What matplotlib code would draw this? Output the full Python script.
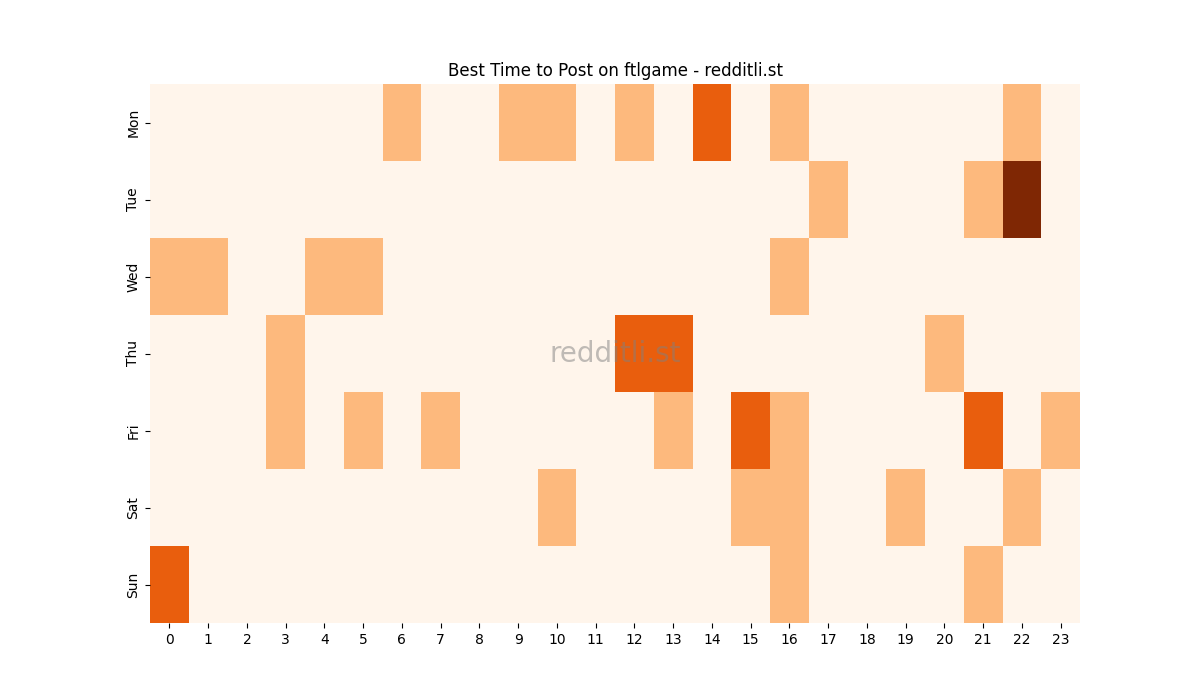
import numpy as np
import matplotlib
matplotlib.use("Agg")
import matplotlib.pyplot as plt
import seaborn as sns

days = ["Mon", "Tue", "Wed", "Thu", "Fri", "Sat", "Sun"]
hours = list(range(24))

# posts score per hour
mon = [0, 0, 0, 0, 0, 0, 1, 0, 0, 1, 1, 0, 1, 0, 2, 0, 1, 0, 0, 0, 0, 0, 1, 0]
tue = [0, 0, 0, 0, 0, 0, 0, 0, 0, 0, 0, 0, 0, 0, 0, 0, 0, 1, 0, 0, 0, 1, 3, 0]
wed = [1, 1, 0, 0, 1, 1, 0, 0, 0, 0, 0, 0, 0, 0, 0, 0, 1, 0, 0, 0, 0, 0, 0, 0]
thu = [0, 0, 0, 1, 0, 0, 0, 0, 0, 0, 0, 0, 2, 2, 0, 0, 0, 0, 0, 0, 1, 0, 0, 0]
fri = [0, 0, 0, 1, 0, 1, 0, 1, 0, 0, 0, 0, 0, 1, 0, 2, 1, 0, 0, 0, 0, 2, 0, 1]
sat = [0, 0, 0, 0, 0, 0, 0, 0, 0, 0, 1, 0, 0, 0, 0, 1, 1, 0, 0, 1, 0, 0, 1, 0]
sun = [2, 0, 0, 0, 0, 0, 0, 0, 0, 0, 0, 0, 0, 0, 0, 0, 1, 0, 0, 0, 0, 1, 0, 0]

data = np.array([mon, tue, wed, thu, fri, sat, sun])

fig, ax = plt.subplots(figsize=(12, 7), dpi=100)
sns.heatmap(data, cmap="Oranges", vmin=0, vmax=3, cbar=False,
            xticklabels=hours, yticklabels=days, ax=ax)
ax.set_title("Best Time to Post on ftlgame - redditli.st")
ax.text(0.5, 0.5, "redditli.st", transform=ax.transAxes, ha="center",
        va="center", fontsize=20, color="gray", alpha=0.5)
plt.setp(ax.get_xticklabels(), rotation=0)
plt.setp(ax.get_yticklabels(), rotation=90, va="center")
fig.savefig("out.png")
